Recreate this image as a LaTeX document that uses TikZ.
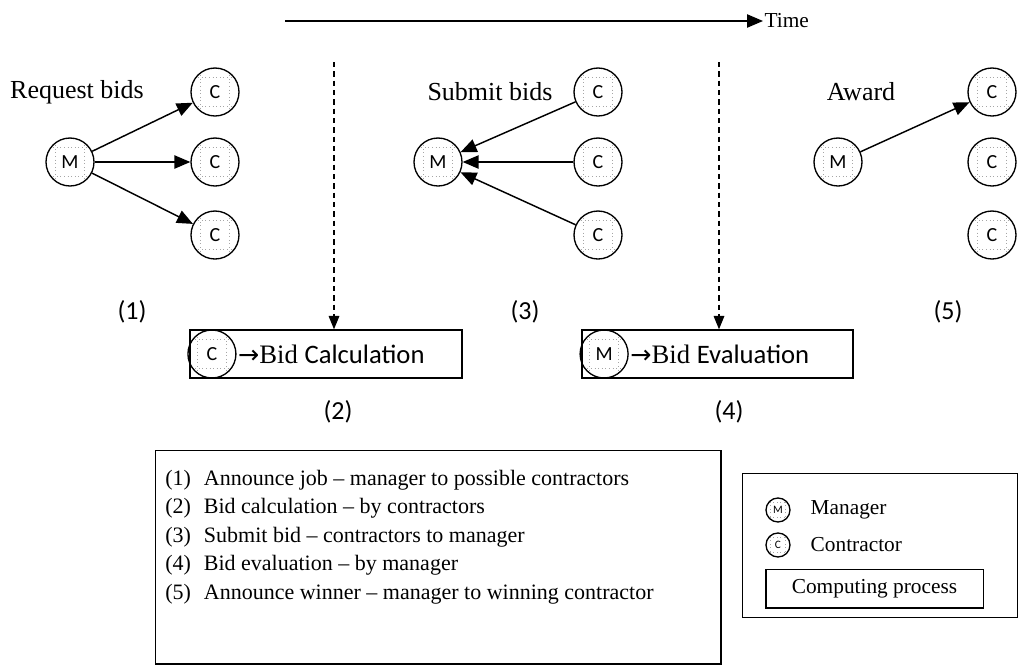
\documentclass[tikz,border=0pt]{standalone}
\usepackage{fontspec}
\setmainfont{Liberation Serif}
\newfontfamily\calibri{Carlito}
\newfontfamily\dejavu{DejaVu Sans}
\usetikzlibrary{positioning,calc,arrows.meta}

\tikzset{
  agent/.style = {circle, draw, line width=1pt, minimum size=36pt, inner sep=0pt,
                  font=\calibri\fontsize{15}{15}\selectfont,
                  path picture={
                    \foreach \f in {0.2,0.8}{
                      \draw[black!35, dotted, line width=0.7pt]
                        ($(path picture bounding box.north west)!\f!(path picture bounding box.north east)$) --
                        ($(path picture bounding box.south west)!\f!(path picture bounding box.south east)$);
                      \draw[black!35, dotted, line width=0.7pt]
                        ($(path picture bounding box.north west)!\f!(path picture bounding box.south west)$) --
                        ($(path picture bounding box.north east)!\f!(path picture bounding box.south east)$);
                    }}},
  msg/.style   = {line width=1.1pt, -{Triangle[length=12pt, width=10pt]}},
  phase/.style = {draw, line width=1.1pt, minimum height=36pt, inner sep=0pt},
  stage/.style = {font=\fontsize{19.5}{19.5}\selectfont},
  num/.style   = {font=\calibri\fontsize{19.5}{19.5}\selectfont},
  tick/.style  = {line width=0.8pt, dashed, dash pattern=on 4pt off 3pt,
                  -{Triangle[length=10pt, width=8pt]}}
}

\begin{document}
\begin{tikzpicture}[x=0.75pt, y=-0.75pt]
\useasboundingbox (0,0) rectangle (1021,665);

% time axis
\coordinate (t0) at (285,21);
\node[anchor=west, inner sep=1pt, font=\fontsize{16}{16}\selectfont] (time) at (763,21) {Time};
\draw[msg, line width=0.9pt] (t0) -- (time.west);

% (1) request bids
\node[stage] (req) at (77,92) {Request bids};
\node[agent] (m1)  at (70,162)  {M};
\node[agent] (c1a) at (215,92)  {C};
\node[agent] (c1b) at (215,162) {C};
\node[agent] (c1c) at (215,235) {C};
\draw[msg] (m1) -- (c1a);
\draw[msg] (m1) -- (c1b);
\draw[msg] (m1) -- (c1c);
\node[num] (n1) at (132,312) {(1)};

% (3) submit bids
\node[stage] (sub) at (490,92) {Submit bids};
\node[agent] (m2)  at (438,162) {M};
\node[agent] (c2a) at (598,92)  {C};
\node[agent] (c2b) at (598,162) {C};
\node[agent] (c2c) at (598,235) {C};
\draw[msg] (c2a) -- (m2);
\draw[msg] (c2b) -- (m2);
\draw[msg] (c2c) -- (m2);
\node[num] (n3) at (525,312) {(3)};

% (5) award
\node[stage] (awd) at (861,92) {Award};
\node[agent] (m3)  at (838,162) {M};
\node[agent] (c3a) at (992,92)  {C};
\node[agent] (c3b) at (992,162) {C};
\node[agent] (c3c) at (992,235) {C};
\draw[msg] (m3) -- (c3a);
\node[num] (n5) at (948,312) {(5)};

% (2) and (4) computing
\node[phase, minimum width=204pt] (calc) at (326,354) {};
\node[agent] (cc) at ([xshift=17pt]calc.west) {C};
\node[anchor=west, inner sep=1pt, font=\fontsize{20}{20}\selectfont] (calct) at (cc.east)
  {{\dejavu\fontsize{19}{19}\selectfont →}Bid {\calibri Calculation}};
\node[num] (n2) at (338,412) {(2)};

\node[phase, minimum width=203pt] (eval) at (717.5,354) {};
\node[agent] (ec) at ([xshift=17pt]eval.west) {M};
\node[anchor=west, inner sep=1pt, font=\fontsize{20}{20}\selectfont] (evalt) at (ec.east)
  {{\dejavu\fontsize{19}{19}\selectfont →}Bid {\calibri Evaluation}};
\node[num] (n4) at (729,412) {(4)};

\coordinate (d1) at (334,62);
\coordinate (d2) at (719,62);
\draw[tick] (d1) -- (d1 |- calc.north);
\draw[tick] (d2) -- (d2 |- eval.north);

% steps
\node[draw, line width=1.1pt, minimum width=424pt, minimum height=160pt, anchor=north west] (steps) at (155,450) {};
\foreach \t [count=\i] in {Announce job -- manager to possible contractors,
                          Bid calculation -- by contractors,
                          Submit bid -- contractors to manager,
                          Bid evaluation -- by manager,
                          Announce winner -- manager to winning contractor}
  \node[anchor=base west, inner sep=0pt, font=\fontsize{16.5}{16.5}\selectfont]
    (s\i) at (165,{485+(\i-1)*28.5}) {\makebox[29pt][l]{(\i)}\t};

% legend
\node[draw, line width=1.1pt, minimum width=206pt, minimum height=108pt, anchor=north west] (legend) at (742,473) {};
\node[agent, minimum size=18pt, font=\calibri\fontsize{8.5}{8.5}\selectfont] (lm) at (778,510) {M};
\node[agent, minimum size=18pt, font=\calibri\fontsize{8.5}{8.5}\selectfont] (lc) at (778,545) {C};
\node[anchor=west, font=\fontsize{16}{16}\selectfont] at (806,510) {Manager};
\node[anchor=west, font=\fontsize{16}{16}\selectfont] at (806,545) {Contractor};
\node[draw, line width=1pt, minimum width=163pt, minimum height=29pt,
      font=\fontsize{16}{16}\selectfont] (cp) at (874.5,588.5) {Computing process};
\end{tikzpicture}
\end{document}
